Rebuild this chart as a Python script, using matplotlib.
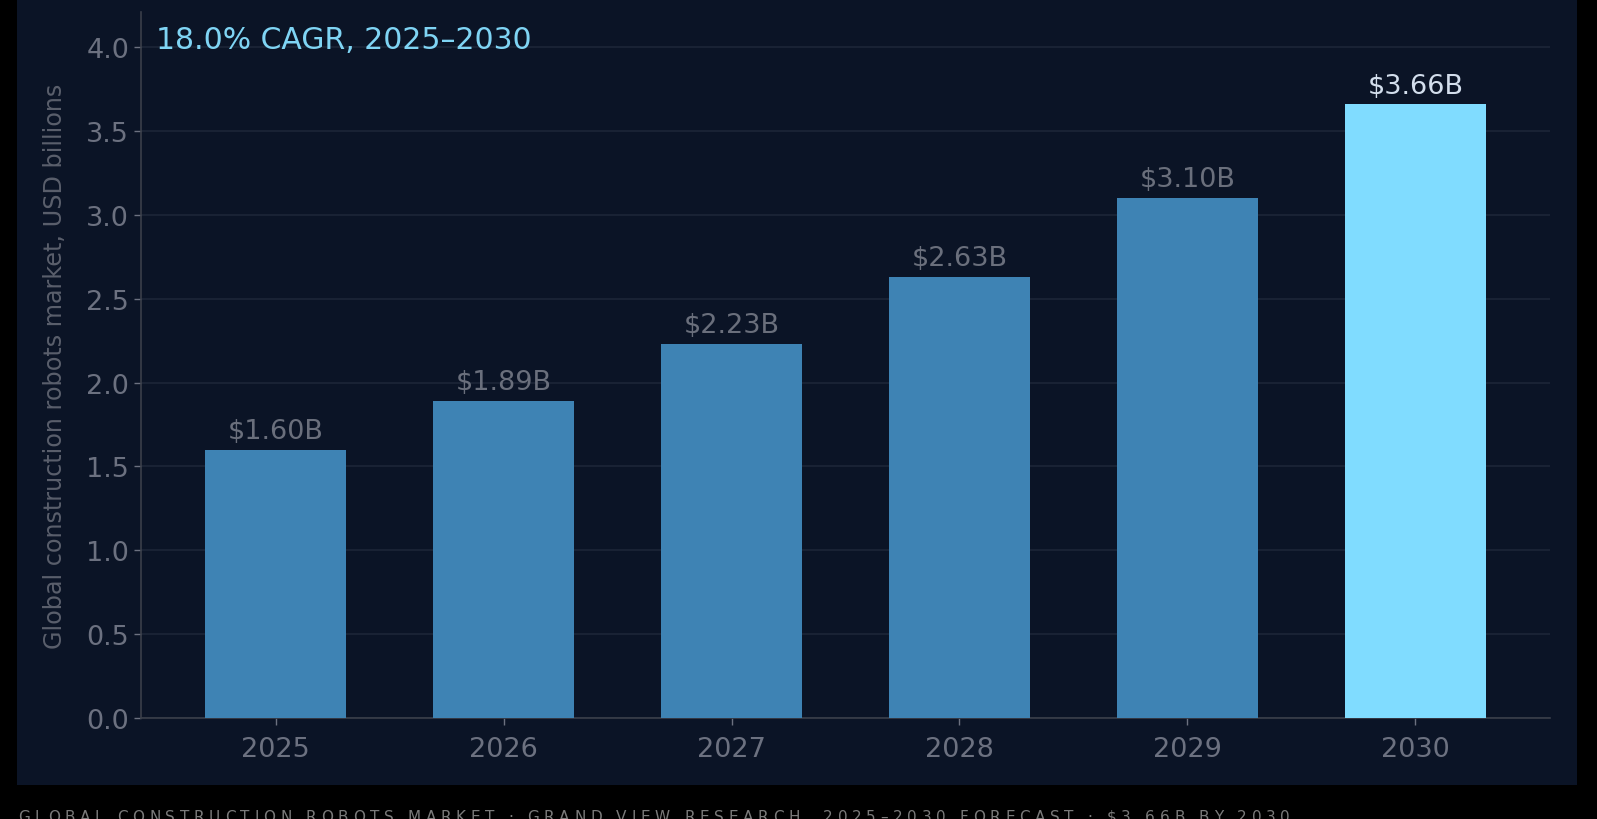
import matplotlib
matplotlib.use("Agg")
import matplotlib.pyplot as plt
from matplotlib.patches import Rectangle

years = ["2025", "2026", "2027", "2028", "2029", "2030"]
market_bn = [1.60, 1.89, 2.23, 2.63, 3.10, 3.66]
value_labels = ["$1.60B", "$1.89B", "$2.23B", "$2.63B", "$3.10B", "$3.66B"]
y_ticks = [0.0, 0.5, 1.0, 1.5, 2.0, 2.5, 3.0, 3.5, 4.0]
cagr_note = "18.0% CAGR, 2025\u20132030"
y_title = "Global construction robots market, USD billions"
footer = "GLOBAL CONSTRUCTION ROBOTS MARKET \u00b7 GRAND VIEW RESEARCH, 2025\u20132030 FORECAST \u00b7 $3.66B BY 2030"

W, H = 1597, 820
panel_bg = "#0b1426"
bar_col = "#3e83b4"
hi_col = "#80dcff"
tick_col = "#6c7180"
grid_col = "#1c2638"
spine_col = "#3a3f4a"

plt.rcParams["font.family"] = ["DejaVu Sans"]

fig = plt.figure(figsize=(W / 100, H / 100), dpi=100, facecolor="black")
# navy card behind the chart
fig.patches.append(Rectangle((17 / W, 1 - 786 / H), 1560 / W, 786 / H,
                             transform=fig.transFigure, facecolor=panel_bg,
                             edgecolor="none", zorder=-10))

ax = fig.add_axes([141 / W, 1 - 719 / H, 1409 / W, 706 / H])
ax.set_facecolor(panel_bg)

colors = [bar_col] * (len(years) - 1) + [hi_col]
bars = ax.bar(years, market_bn, width=0.62, color=colors, zorder=3)

for i, (b, lab) in enumerate(zip(bars, value_labels)):
    last = i == len(bars) - 1
    ax.annotate(lab, (b.get_x() + b.get_width() / 2, b.get_height()),
                xytext=(0, 4), textcoords="offset points", ha="center", va="bottom",
                fontsize=19.5, color="#d3deec" if last else "#6a6f7c", zorder=4)

ax.set_ylim(0, max(market_bn) * 1.15)
ax.set_yticks(y_ticks)
ax.set_yticklabels([f"{v:.1f}" for v in y_ticks])
ax.grid(axis="y", color=grid_col, linewidth=1.2, zorder=0)
ax.set_axisbelow(True)

for s in ["top", "right"]:
    ax.spines[s].set_visible(False)
for s in ["left", "bottom"]:
    ax.spines[s].set_color(spine_col)
    ax.spines[s].set_linewidth(1.2)

ax.tick_params(axis="both", colors=tick_col, labelsize=19.5, length=5, width=1)
ax.tick_params(axis="x", pad=8)
ax.set_ylabel(y_title, color="#5a5f6c", fontsize=17.2, labelpad=14)

ax.text(0.011, 0.982, cagr_note, transform=ax.transAxes, ha="left", va="top",
        fontsize=21.5, color="#7fd4f4", zorder=5)

# footer with wide letter spacing, drawn one character at a time
renderer = fig.canvas.get_renderer()
fsize = 11

def char_width(ch):
    probe = fig.text(0, 0, "x" + ch + "x", fontsize=fsize)
    base = fig.text(0, 0, "xx", fontsize=fsize)
    w = probe.get_window_extent(renderer).width - base.get_window_extent(renderer).width
    probe.remove()
    base.remove()
    return w

widths = [char_width(c) for c in footer]
x0, x1 = 18, 1290
tracking = (x1 - x0 - sum(widths)) / (len(footer) - 1)
x = x0
for c, w in zip(footer, widths):
    fig.text(x / W, 1 - 822 / H, c, fontsize=fsize, color="#7a7a7a",
             ha="left", va="baseline")
    x += w + tracking

fig.savefig("out.png", dpi=100, facecolor="black")
